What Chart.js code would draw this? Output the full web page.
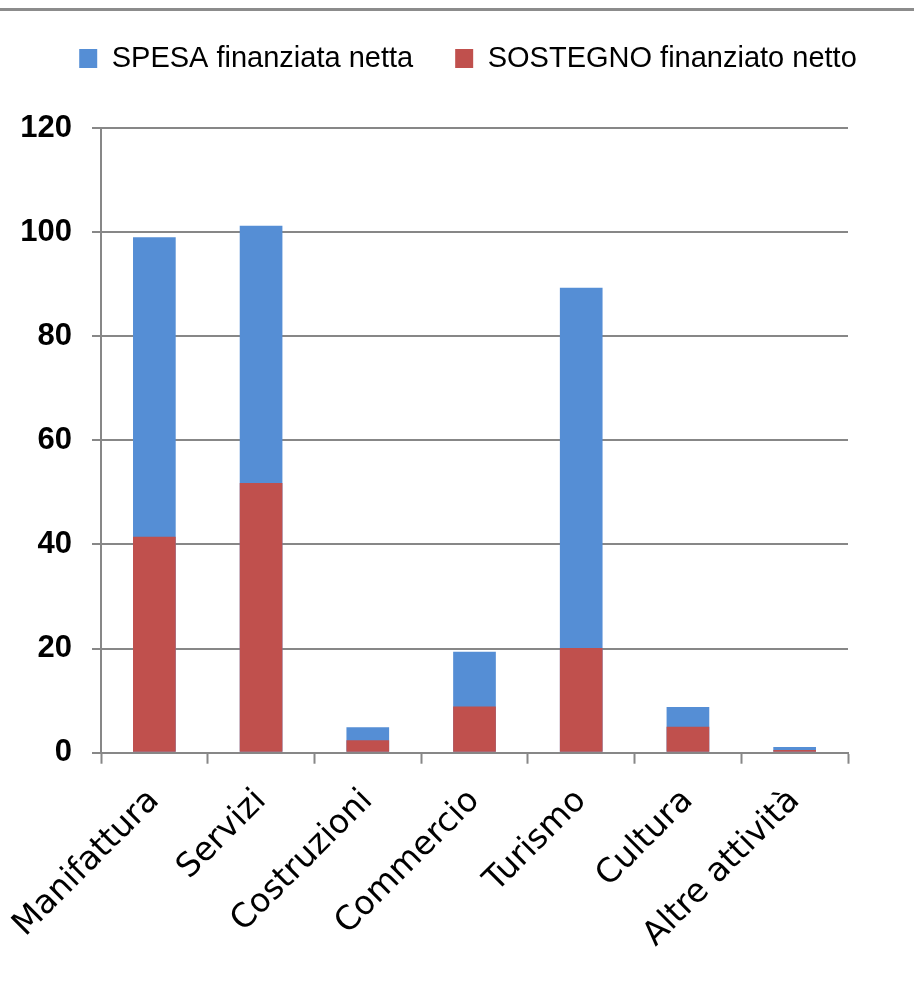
<!DOCTYPE html>
<html>
<head>
<meta charset="utf-8">
<script src="https://cdn.jsdelivr.net/npm/chart.js@4.4.1/dist/chart.umd.min.js"></script>
<style>
  body { margin: 0; background: #fff; }
  #wrap { position: relative; width: 914px; height: 991px; }
  #topline { position: absolute; left: 0; top: 8px; width: 914px; height: 3px; background: #8c8c8c; }
</style>
</head>
<body>
<div id="wrap">
  <div id="topline"></div>
  <canvas id="sectorChart"></canvas>
</div>
<script>
const categories = ['Manifattura', 'Servizi', 'Costruzioni', 'Commercio', 'Turismo', 'Cultura', 'Altre attività'];
const spesaValues = [99.0, 101.2, 4.9, 19.4, 89.3, 8.8, 1.1];
const sostegnoValues = [41.5, 51.8, 2.4, 8.9, 20.1, 5.0, 0.5];
const yTicks = [0, 20, 40, 60, 80, 100, 120];

const blue = '#558ED5';
const red = '#C0504D';
const gridColor = '#878787';

// spazio extra sotto la legenda
const legendGap = {
  id: 'legendGap',
  beforeInit(chart) {
    const origFit = chart.legend.fit;
    chart.legend.fit = function () {
      origFit.bind(chart.legend)();
      this.height += 45;
    };
  }
};

// barre sovrapposte: stessa posizione sull'asse x, valori non sommati
const ctx = document.getElementById('sectorChart').getContext('2d');
new Chart(ctx, {
  type: 'bar',
  data: {
    labels: categories,
    datasets: [{
      label: 'SPESA finanziata netta',
      data: spesaValues,
      backgroundColor: blue,
      order: 1
    }, {
      label: 'SOSTEGNO finanziato netto',
      data: sostegnoValues,
      backgroundColor: red,
      order: 0
    }]
  },
  plugins: [legendGap],
  options: {
    responsive: true,
    maintainAspectRatio: false,
    animation: false,
    devicePixelRatio: 1,
    categoryPercentage: 1,
    barPercentage: 0.4,
    layout: { padding: { top: 2, right: 0, bottom: 18, left: 22 } },
    plugins: {
      tooltip: { enabled: false },
      legend: {
        position: 'top',
        labels: {
          sort: (a, b) => a.datasetIndex - b.datasetIndex,
          boxWidth: 18,
          boxHeight: 19,
          padding: 42,
          color: '#000',
          font: { family: 'Liberation Sans', size: 29 }
        }
      }
    },
    scales: {
      x: {
        stacked: true,
        afterFit: (axis) => { axis.paddingLeft = 0; },
        grid: {
          offset: true,
          drawOnChartArea: false,
          tickLength: 11,
          tickWidth: 2,
          tickColor: gridColor
        },
        border: { color: gridColor, width: 2 },
        ticks: {
          minRotation: 45,
          maxRotation: 45,
          padding: 18,
          color: '#000',
          font: { family: 'DejaVu Sans', size: 33 }
        }
      },
      y: {
        stacked: false,
        min: 0,
        max: 120,
        afterBuildTicks: (axis) => { axis.ticks = yTicks.map(v => ({ value: v })); },
        afterFit: (axis) => { axis.width = 79; },
        grid: {
          color: gridColor,
          lineWidth: 2,
          tickLength: 9
        },
        border: { color: gridColor, width: 2 },
        ticks: {
          padding: 20,
          color: '#000',
          font: { family: 'Liberation Sans', size: 31, weight: 'bold' }
        }
      },
      // asse vuoto a destra: solo margine
      yRight: {
        position: 'right',
        min: 0,
        max: 120,
        afterFit: (axis) => { axis.width = 66; },
        grid: { display: false },
        border: { display: false },
        ticks: { display: false }
      }
    }
  }
});
</script>
</body>
</html>
